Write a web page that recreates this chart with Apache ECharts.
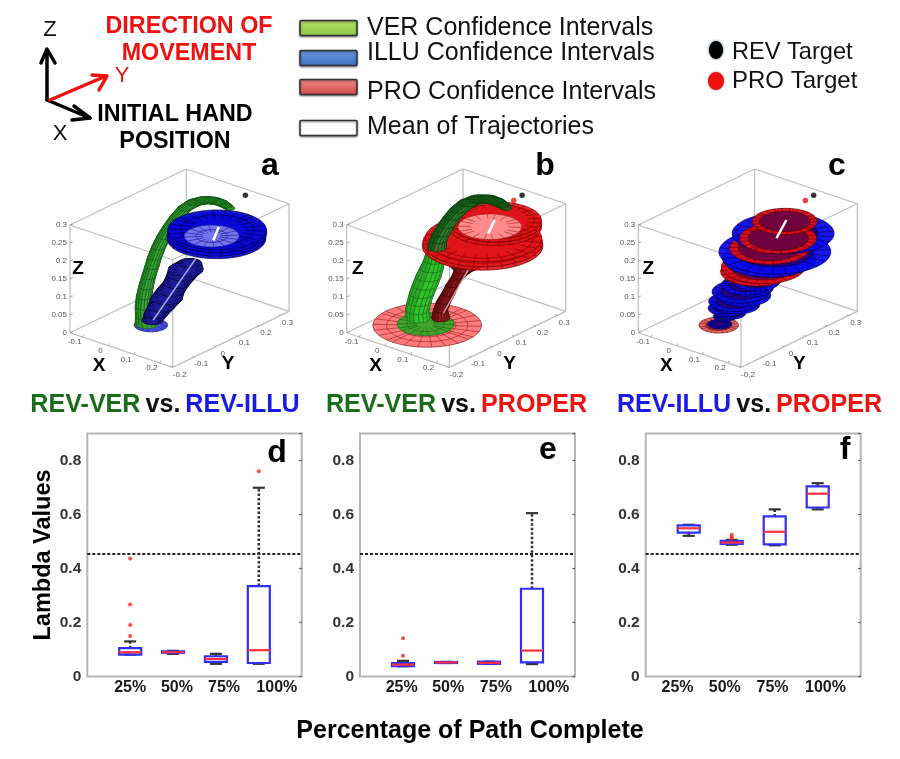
<!DOCTYPE html>
<html><head><meta charset="utf-8">
<style>html,body{margin:0;padding:0;background:#fff}#c{width:900px;height:759px}</style>
<script src="https://cdn.jsdelivr.net/npm/echarts@6/dist/echarts.min.js"></script>
</head><body><div id="c"></div>
<script>
// ---------- DATA ----------
const categories = ['25%','50%','75%','100%'];
const positions = [1,2,3,4];
const threshold = 0.454;
// [whiskerLow, q1, median, q3, whiskerHigh]
const boxesD = [[.081,.081,.09,.105,.13],[.084,.088,.09,.093,.095],[.047,.054,.065,.075,.084],[.047,.05,.0975,.335,.699]];
const boxesE = [[.038,.038,.044,.05,.058],[.05,.05,.052,.054,.054],[.047,.047,.0506,.055,.055],[.046,.052,.096,.325,.605]];
const boxesF = [[.521,.533,.549,.56,.562],[.488,.491,.496,.502,.506],[.486,.489,.536,.593,.619],[.619,.626,.677,.704,.716]];
const outliersD = [[1,.15],[1,.191],[1,.267],[1,.437],[4,.76]];
const outliersE = [[1,.077],[1,.142]];
const outliersF = [[2,.509],[2,.516],[2,.525]];
const yTicks = [0,.2,.4,.6,.8];
const labelPosD = [1,2.09,3.19,4.42];
const labelPosE = [.97,2.05,3.16,4.39];
const labelPosF = [.74,1.84,2.95,4.18];

const zTicks = [0,.05,.1,.15,.2,.25,.3];
const xTicks = [-.1,0,.1,.2];
const yTicks3d = [-.2,-.1,0,.1,.2,.3];
const targetRev = [.096,.321,.292];
const targetPro = [.082,.299,.280];

// trajectories: [x, y, z, radius]
const illuBaseA = [[-.001,-.002,0,.05]];
const verA = [[-.012,-.008,.002,.035],[-.025,-.006,.019,.025],[-.036,.004,.041,.024],[-.043,.016,.064,.023],[-.048,.031,.086,.022],[-.051,.047,.109,.021],[-.053,.064,.131,.021],[-.055,.079,.152,.021],[-.055,.098,.175,.021],[-.053,.12,.199,.021],[-.048,.142,.221,.021],[-.041,.165,.242,.021],[-.03,.191,.263,.022],[-.013,.217,.276,.025],[.008,.238,.281,.027],[.027,.253,.28,.025],[.047,.266,.275,.021],[.063,.273,.268,.017],[.073,.277,.262,.014]];
const illuTubeA = [[-.002,.006,.01,.03],[0,.02,.025,.035],[.005,.038,.041,.04],[.01,.058,.06,.047],[.012,.074,.077,.042],[.019,.093,.094,.04],[.024,.113,.113,.045],[.027,.126,.125,.052],[.031,.141,.139,.035]];
const illuFlareA = [[.07,.218,.194,.147],[.067,.221,.2,.148],[.066,.226,.208,.148],[.063,.229,.214,.147]];
const illuInnerA = [[.056,.212,.2,.082],[.056,.212,.2,.047]];
const meanTubeA = [[-.001,.009,.011],[.041,.16,.152]];
const meanTopA = [[.064,.236,.221],[.064,.21,.19]];

const proBaseB = [[-.001,-.004,0,.162]];
const verBaseB = [[-.007,-.004,.002,.085]];
const verLowB = [[-.03,-.012,.015,.036],[-.039,-.005,.034,.035],[-.042,.008,.053,.036],[-.044,.022,.071,.037],[-.044,.037,.09,.038],[-.044,.053,.109,.038],[-.044,.068,.128,.035],[-.046,.082,.146,.031],[-.051,.1,.173,.028]];
const proTubeB = [[.022,.031,.015,.027],[.014,.04,.034,.021],[.014,.055,.053,.021],[.017,.073,.071,.02],[.019,.09,.09,.019],[.024,.11,.109,.019],[.03,.127,.124,.027],[.03,.142,.143,.06]];
const proFlareB = [[.052,.19,.178,.18],[.049,.194,.185,.179],[.047,.2,.195,.174],[.063,.235,.221,.139],[.062,.24,.229,.137],[.059,.244,.236,.135]];
const proInnerB = [[.051,.225,.221,.095]];
const verArchB = [[-.051,.1,.173,.028],[-.055,.112,.191,.026],[-.053,.125,.206,.026],[-.05,.144,.225,.026],[-.043,.165,.244,.026],[-.035,.185,.26,.027],[-.02,.21,.275,.03],[-.001,.233,.283,.031],[.022,.252,.283,.03],[.044,.265,.278,.025],[.061,.273,.269,.021],[.073,.277,.262,.015]];
const meanTubeB = [[.024,.041,.026],[.047,.169,.158]];
const meanTopB = [[.056,.242,.236],[.053,.215,.206]];

// [x, y, z, radius, group]  group 0 = ILLU, 1 = PRO, 2 = PRO start
const stackC = [[-.002,-.003,0,.059,2],[-.001,.001,.002,.035,0],[.004,.019,.019,.035,0],[.016,.035,.026,.042,0],[.004,.034,.038,.06,0],[.021,.055,.045,.067,0],[.011,.052,.053,.075,0],[.028,.078,.066,.08,0],[.017,.076,.075,.085,0],[.039,.1,.083,.065,0],[.024,.095,.09,.075,0],[.044,.117,.098,.07,0],[.035,.128,.12,.107,1],[.046,.146,.131,.125,1],[.053,.168,.15,.14,0],[.059,.185,.165,.167,0],[.044,.179,.173,.12,1],[.061,.221,.206,.152,0],[.054,.206,.195,.115,1],[.054,.237,.233,.097,1]];
const meanTopC = [[.056,.242,.236],[.05,.203,.195]];

// ---------- PROJECTION ----------
const X0=-.15, Y0=-.2, X1=.25, Y1=.34, Z1=.3;
function project(x,y,z){
  return [256.75*(x-X0)+215.4*(y-Y0), -86.75*(x-X0)+103.7*(y-Y0)+359*z];
}
const edges = [
 [[X0,Y0,0],[X1,Y0,0]],[[X1,Y0,0],[X1,Y1,0]],[[X1,Y1,0],[X0,Y1,0]],[[X0,Y1,0],[X0,Y0,0]],
 [[X0,Y0,Z1],[X1,Y0,Z1]],[[X1,Y0,Z1],[X1,Y1,Z1]],[[X1,Y1,Z1],[X0,Y1,Z1]],[[X0,Y1,Z1],[X0,Y0,Z1]],
 [[X0,Y0,0],[X0,Y0,Z1]],[[X1,Y0,0],[X1,Y0,Z1]],[[X1,Y1,0],[X1,Y1,Z1]],[[X0,Y1,0],[X0,Y1,Z1]]
];
const TICKFONT='8px "Liberation Sans"';
function frameSeries(g,zOff,xOff,yOff){
  return {type:'custom',xAxisIndex:g,yAxisIndex:g,silent:true,z:1,data:[0],
   renderItem(p,api){
    const ch=[];
    const c=(x,y,z)=>api.coord(project(x,y,z));
    edges.forEach(e=>{const a=c(...e[0]),b=c(...e[1]);
      ch.push({type:'line',shape:{x1:a[0],y1:a[1],x2:b[0],y2:b[1]},style:{stroke:'#bdbdbd',lineWidth:1.2}});});
    const txt=(s,x,y,al,font,fill)=>ch.push({type:'text',style:{text:s,x,y,align:al,verticalAlign:'middle',font:font||TICKFONT,fill:fill||'#555'}});
    zTicks.forEach(t=>{const a=c(X0,Y0,t);txt(String(t),a[0]-3,a[1],'right');
      ch.push({type:'line',shape:{x1:a[0],y1:a[1],x2:a[0]+3,y2:a[1]-1},style:{stroke:'#888',lineWidth:.7}});});
    xTicks.forEach(t=>{const a=c(t,Y0,0);txt(String(t),a[0]-8,a[1]+5,'center');
      ch.push({type:'line',shape:{x1:a[0],y1:a[1],x2:a[0]+1,y2:a[1]-2.5},style:{stroke:'#888',lineWidth:.7}});});
    yTicks3d.forEach(t=>{const a=c(X1,t,0);txt(String(t),a[0]+7,a[1]+7,'center');
      ch.push({type:'line',shape:{x1:a[0],y1:a[1],x2:a[0]-2,y2:a[1]-1},style:{stroke:'#888',lineWidth:.7}});});
    const o=c(X0,Y0,0), B='bold 19px "Liberation Sans"';
    txt('Z',o[0]+zOff,o[1]-64,'center',B,'#000');
    txt('X',o[0]+xOff,o[1]+33,'center',B,'#000');
    txt('Y',o[0]+yOff,o[1]+31,'center',B,'#000');
    return {type:'group',children:ch};
   }};
}
function ringPts(api,d,k,N){
  const pts=[];
  for(let i=0;i<N;i++){const t=i/N*2*Math.PI;
    pts.push(api.coord(project(d[0]+k*d[3]*Math.cos(t),d[1]+k*d[3]*Math.sin(t),d[2])));}
  return pts;
}
function discShapes(api,d,st){
  const N=48, ch=[], ring=k=>ringPts(api,d,k,N);
  const outer=ring(1);
  ch.push({type:'polygon',shape:{points:outer},style:{fill:st.fill,stroke:st.line,lineWidth:st.lw||.7}});
  const inner=st.hole?ring(st.hole):null;
  const from=inner||ring(st.spokeFrom||.5);
  const n=st.spokes||12;
  for(let i=0;i<n;i++){const k=Math.floor(i*N/n),a=from[k],b=outer[k];
    ch.push({type:'line',shape:{x1:a[0],y1:a[1],x2:b[0],y2:b[1]},style:{stroke:st.line,lineWidth:.6}});}
  (st.rings||[]).forEach(k=>ch.push({type:'polygon',shape:{points:ring(k)},style:{fill:'none',stroke:st.line,lineWidth:.6}}));
  if(inner)ch.push({type:'polygon',shape:{points:inner},style:{fill:st.holeFill,stroke:st.line,lineWidth:.7}});
  return {type:'group',children:ch};
}
function discs(g,data,st,z){
  return {type:'custom',xAxisIndex:g,yAxisIndex:g,silent:true,z,data:data.map((d,i)=>[i]),
   renderItem(p,api){const d=data[p.dataIndex];
     const s=Array.isArray(st)?st[d[4]]:st; return discShapes(api,d,s);}};
}
// surface joining consecutive trajectory cross-sections
function tube(g,data,st,z){
  return {type:'custom',xAxisIndex:g,yAxisIndex:g,silent:true,z,data:data.slice(0,-1).map((d,i)=>[i]),
   renderItem(p,api){
     const M=16,a=ringPts(api,data[p.dataIndex],1,M),b=ringPts(api,data[p.dataIndex+1],1,M),quads=[];
     for(let j=0;j<M;j++){const q=[a[j],a[(j+1)%M],b[(j+1)%M],b[j]];
       quads.push({q,y:(q[0][1]+q[1][1])/2,lx:Math.cos((j+.5)/M*2*Math.PI)});}
     quads.sort((m,n)=>m.y-n.y);
     return {type:'group',children:quads.map(o=>({type:'polygon',shape:{points:o.q},
       style:{fill:o.lx>.2?st.light:st.fill,stroke:st.line,lineWidth:.5}}))};
   }};
}
function meanLine(g,pts,color,w,z){
  return {type:'line',xAxisIndex:g,yAxisIndex:g,silent:true,z,symbol:'none',animation:false,
    data:pts.map(p=>project(...p)),lineStyle:{color,width:w}};
}
function targets(g,pts,z){
  return pts.map(t=>({type:'scatter',xAxisIndex:g,yAxisIndex:g,silent:true,z,symbolSize:t.s,
    itemStyle:{color:t.c},data:[project(...t.p)]}));
}
// ---------- STYLES ----------
const green={fill:'#2b8f2b',light:'#3aa33a',line:'#0e550e'};
const greenB={fill:'#2da82a',light:'#35c02e',line:'#0f6a0f'};
const greenBaseB={fill:'rgba(60,165,40,.95)',line:'#0f6a0f',spokes:18,spokeFrom:.3,rings:[.66]};
const greenDark={fill:'rgba(25,95,30,.9)',light:'rgba(50,125,50,.88)',line:'#0a3f0a'};
const navy={fill:'#17178c',light:'#2020a8',line:'#05052e'};
const navyRim={fill:'#1c1c9c',line:'#05052e',spokes:14,spokeFrom:.55};
const blueBase={fill:'#4a4ae0',line:'#1a1a80',spokes:12,spokeFrom:.6};
const blueDisc={fill:'rgba(8,8,215,.93)',line:'#000040',spokes:26,spokeFrom:.55,rings:[.75]};
const blueInner={fill:'#7474ee',line:'#1a1a90',spokes:16,spokeFrom:.58};
const proBase={fill:'rgba(255,100,100,.85)',line:'#8a2020',spokes:26,spokeFrom:.35,rings:[.53,.75]};
const proTube={fill:'#7a1418',light:'#8e1c20',line:'#3c0505'};
const proDisc={fill:'rgba(225,20,25,.9)',line:'#700000',spokes:24,spokeFrom:.7,rings:[.85]};
const proInner={fill:'#ff8a8a',line:'#a02020',spokes:18,spokeFrom:.6};
const illuC={fill:'rgba(10,10,235,.95)',line:'#000050',spokes:22,hole:.68,holeFill:'rgba(35,0,110,.85)'};
const proC={fill:'rgba(222,15,25,.95)',line:'#5a0000',spokes:26,hole:.78,holeFill:'rgba(85,0,70,.8)'};
const proStartC={fill:'#e86a6a',line:'#7a1a1a',spokes:20,hole:.66,holeFill:'#8a2530'};

// ---------- 3D PANELS ----------
const panelLefts=[70,346.7,638.3];
const grids=panelLefts.map(l=>({left:l,top:168.7,width:219,height:199}));
const xAxes=panelLefts.map((l,i)=>({type:'value',gridIndex:i,min:0,max:219,show:false}));
const yAxes=panelLefts.map((l,i)=>({type:'value',gridIndex:i,min:-35,max:164,show:false}));
const tg=[{p:targetRev,c:'#000',s:5.5}], tgBoth=[{p:targetRev,c:'#000',s:5.5},{p:targetPro,c:'#f01010',s:5.5}];
let series=[
 frameSeries(0,8,29,158),frameSeries(1,11,29,163),frameSeries(2,10,28,161),
 discs(0,illuBaseA,blueBase,2),tube(0,verA,green,3),tube(0,illuTubeA,navy,4),discs(0,illuTubeA,navyRim,4),
 meanLine(0,meanTubeA,'rgba(215,215,245,.75)',1.5,5),
 discs(0,illuFlareA,blueDisc,6),discs(0,illuInnerA,blueInner,7),meanLine(0,meanTopA,'#fff',2.5,8),
 ...targets(0,tg,9),
 discs(1,proBaseB,proBase,2),discs(1,verBaseB,greenBaseB,3),tube(1,verLowB,greenB,4),tube(1,proTubeB,proTube,5),
 meanLine(1,meanTubeB,'rgba(245,210,210,.7)',1.5,6),
 discs(1,proFlareB,proDisc,7),discs(1,proInnerB,proInner,8),meanLine(1,meanTopB,'#fff',2.5,9),
 tube(1,verArchB,greenDark,10),
 ...targets(1,tgBoth,11),
 discs(2,stackC,[illuC,proC,proStartC],3),meanLine(2,meanTopC,'#fff',2.5,5),
 ...targets(2,tgBoth,6)
];

// ---------- BOX PANELS ----------
const boxGrids=[{l:87.3,w:214.4,b:boxesD,o:outliersD,lp:labelPosD},{l:360,w:215,b:boxesE,o:outliersE,lp:labelPosE},{l:645.7,w:215,b:boxesF,o:outliersF,lp:labelPosF}];
boxGrids.forEach((B,k)=>{
  const g=3+k, ya=g;
  grids.push({left:B.l,top:433.5,width:B.w,height:243,show:true,borderColor:'#b5b5b5',borderWidth:2,backgroundColor:'#fff'});
  xAxes.push({type:'value',gridIndex:g,min:0,max:5,axisLine:{show:false},axisTick:{show:false},axisLabel:{show:false},splitLine:{show:false}});
  yAxes[ya]={type:'value',gridIndex:g,min:0,max:.9,interval:.2,splitLine:{show:false},axisLine:{show:false},axisTick:{show:false},
    axisLabel:{margin:6,showMaxLabel:false,color:'#333',fontFamily:'Liberation Sans',fontWeight:'bold',fontSize:15.5,formatter:v=>yTicks.includes(+v.toFixed(1))?(v===0?'0':v.toFixed(1)):''},
    ...(k===0?{name:'Lambda Values',nameLocation:'middle',nameGap:32,nameTextStyle:{fontFamily:'Liberation Sans',fontWeight:'bold',fontSize:23.5,color:'#000'}}:{})};
});
boxGrids.forEach((B,k)=>{ yAxes[6+k]={type:'value',gridIndex:3+k,position:'right',min:0,max:.9,interval:.2,splitLine:{show:false},axisLine:{show:false},axisLabel:{show:false},
    axisTick:{show:true,inside:true,length:2.5,lineStyle:{color:'#555',width:1.2}}}; });
boxGrids.forEach((B,k)=>{
  const g=3+k;
  series.push({type:'custom',xAxisIndex:g,yAxisIndex:g,silent:true,z:4,data:B.b.map((r,i)=>[positions[i],...r]),
    renderItem(p,api){
      const x=api.coord([api.value(0),0])[0], Y=i=>api.coord([0,api.value(i)])[1];
      const lo=Y(1),q1=Y(2),m=Y(3),q3=Y(4),hi=Y(5),bw=11,cw=6, dark='#333';
      const L=(x1,y1,x2,y2,stroke,w,dash)=>({type:'line',shape:{x1,y1,x2,y2},style:{stroke,lineWidth:w,lineDash:dash}});
      return {type:'group',children:[
        L(x,q3,x,hi,dark,2.5,[2.5,2]),L(x,q1,x,lo,dark,2.5,[2.5,2]),
        L(x-cw,hi,x+cw,hi,dark,2.2),L(x-cw,lo,x+cw,lo,dark,2.2),
        {type:'rect',shape:{x:x-bw,y:q3,width:2*bw,height:q1-q3},style:{fill:'none',stroke:'#3030f5',lineWidth:2.2}},
        L(x-bw,m,x+bw,m,'#ff2f3f',2.2)]};
    }});
  series.push({type:'scatter',xAxisIndex:g,yAxisIndex:g,silent:true,z:5,symbolSize:4,itemStyle:{color:'#ff2020'},data:B.o});
  series.push({type:'line',xAxisIndex:g,yAxisIndex:g,silent:true,z:6,symbol:'none',data:[[0,threshold],[5,threshold]],lineStyle:{color:'#222',width:2,type:[3,2]}});
  series.push({type:'custom',xAxisIndex:g,yAxisIndex:g,silent:true,z:6,data:categories.map((c,i)=>[B.lp[i]]),
    renderItem(p,api){const a=api.coord([api.value(0),0]);
      return {type:'text',style:{text:categories[p.dataIndex],x:a[0],y:a[1]+11,align:'center',verticalAlign:'middle',font:'bold 16px "Liberation Sans"',fill:'#1a1a1a'}};}});
});

// ---------- TITLES ----------
const TS=25.1;
const rich={g:{color:'#1a6e1a',fontSize:TS,fontWeight:'bold',fontFamily:'Liberation Sans'},
            b:{color:'#1a1ae6',fontSize:TS,fontWeight:'bold',fontFamily:'Liberation Sans'},
            r:{color:'#f01010',fontSize:TS,fontWeight:'bold',fontFamily:'Liberation Sans'},
            k:{color:'#111',fontSize:TS,fontWeight:'bold',fontFamily:'Liberation Sans'}};
const tt=(text,left)=>({text,left,top:388,textAlign:'center',textStyle:{rich}});

// ---------- DECORATION ----------
const F='"Liberation Sans"';
const T=(text,x,y,font,fill,align)=>({type:'text',x,y,z:20,style:{text,font,fill,align:align||'center',verticalAlign:'middle',textAlign:align||'center',textVerticalAlign:'middle'}});
const poly=(pts,stroke,w)=>({type:'polyline',z:20,shape:{points:pts},style:{stroke,lineWidth:w,fill:'none',lineJoin:'round',lineCap:'round'}});
const sw=(y,c1,c2)=>({type:'rect',z:20,shape:{x:300,y:y-7.5,width:57,height:15,r:1},style:{fill:c2?new echarts.graphic.LinearGradient(0,0,0,1,[{offset:0,color:c1},{offset:1,color:c2}]):c1,stroke:'#333',lineWidth:1.5,shadowBlur:2,shadowColor:'rgba(0,0,0,.45)',shadowOffsetY:1}});
const LF='25px '+F, BF='bold 23.3px '+F, PF='bold 32px '+F;
const graphic=[
 poly([[47,100],[47,50]],'#000',3.5),poly([[41,63],[47,49],[55,63]],'#000',3.5),
 poly([[47,100],[90,118]],'#000',3.5),poly([[74,106],[90,118],[72,120]],'#000',3.5),
 poly([[50,100],[106,76]],'#f01010',3.5),poly([[92,75],[107,76],[99,90]],'#f01010',3.5),
 T('Z',50,30,'22px '+F,'#111'),T('X',60,134,'22px '+F,'#111'),T('Y',122,76,'22px '+F,'#f01010'),
 T('DIRECTION OF',189,27,BF,'#f01010'),T('MOVEMENT',189,54,BF,'#f01010'),
 T('INITIAL HAND',175,115,BF,'#000'),T('POSITION',175,142,BF,'#000'),
 sw(28,'#b8e468','#8cc63f'),sw(58,'#6a9ae0','#3b6fc0'),sw(87,'#f28a8a','#d04848'),sw(128,'#fff'),
 T('VER Confidence Intervals',367,28,LF,'#111','left'),T('ILLU Confidence Intervals',367,53,LF,'#111','left'),
 T('PRO Confidence Intervals',367,92,LF,'#111','left'),T('Mean of Trajectories',367,127,LF,'#111','left'),
 {type:'ellipse',z:20,shape:{cx:716,cy:50,rx:7,ry:9},style:{fill:'#000',shadowBlur:3,shadowColor:'#3a70b0'}},
 {type:'ellipse',z:20,shape:{cx:716,cy:81,rx:8,ry:9},style:{fill:'#f01010',shadowBlur:2,shadowColor:'#777'}},
 T('REV Target',732,52,'23.6px '+F,'#111','left'),T('PRO Target',732,81,'24px '+F,'#111','left'),
 T('a',270,166,PF,'#000'),T('b',545,166,PF,'#000'),T('c',837,166,PF,'#000'),
 T('d',277,453,PF,'#000'),T('e',548,450,PF,'#000'),T('f',845,450,PF,'#000'),
 T('Percentage of Path Complete',470,731,'bold 25px '+F,'#000')
];

const chart=echarts.init(document.getElementById('c'),null,{renderer:'canvas',width:900,height:759});
chart.setOption({animation:false,backgroundColor:'#fff',
  title:[tt('{g|REV-VER} {k|vs.} {b|REV-ILLU}',160),tt('{g|REV-VER} {k|vs.} {r|PROPER}',451.5),tt('{b|REV-ILLU} {k|vs.} {r|PROPER}',744.5)],
  grid:grids,xAxis:xAxes,yAxis:yAxes,series,graphic});
</script></body></html>
